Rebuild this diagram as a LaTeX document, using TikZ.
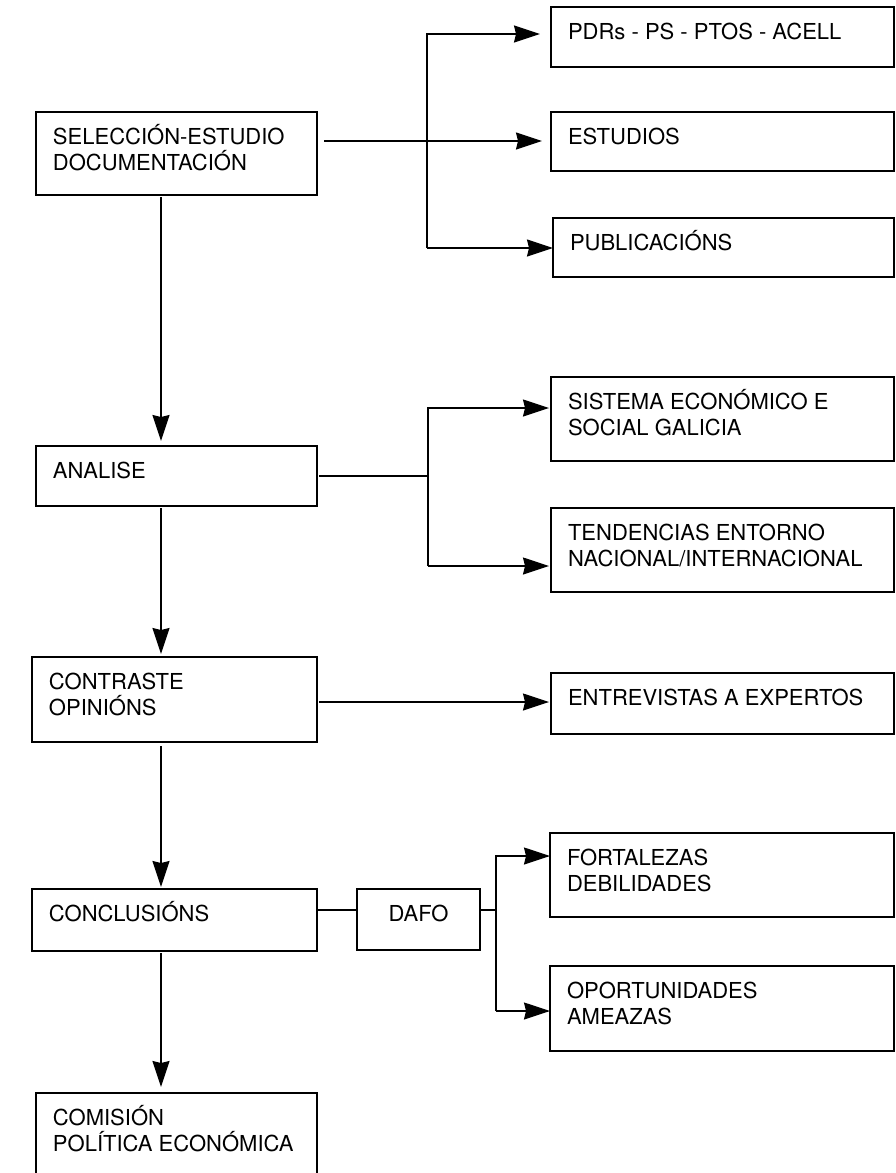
\documentclass[tikz,border=0pt]{standalone}
\usepackage{fontspec}
\setmainfont{TeX Gyre Heros}
\usetikzlibrary{arrows.meta,calc}
\newcommand{\btxtL}[3]{\begin{minipage}[c][#2][t]{#1}\leftskip=17pt\rule{0pt}{32.8pt}#3\end{minipage}}
\newcommand{\btxtC}[3]{\begin{minipage}[c][#2][t]{#1}\centering\rule{0pt}{32.8pt}#3\end{minipage}}
\begin{document}
\begin{tikzpicture}[x=1pt,y=-1pt,
  box/.style={draw, line width=1.4pt, inner sep=0pt, outer sep=0pt, anchor=north west,
    font=\fontsize{22}{26}\selectfont},
  conn/.style={line width=1.2pt},
  arr/.style={conn, -{Stealth[length=26pt,width=17pt,inset=2pt]}}]
\path[use as bounding box] (0,0) rectangle (895,1173);
\clip (0,0) rectangle (895,1173);
% left column
\node[box] (sel) at (36,112) {\btxtL{281pt}{83pt}{SELECCIÓN-ESTUDIO\\DOCUMENTACIÓN}};
\node[box] (ana) at (36,446) {\btxtL{281pt}{60pt}{ANALISE}};
\node[box] (con) at (32,657) {\btxtL{285pt}{85pt}{CONTRASTE\\OPINIÓNS}};
\node[box] (clu) at (32,889) {\btxtL{285pt}{62pt}{CONCLUSIÓNS}};
\node[box] (com) at (36,1093) {\btxtL{281pt}{100pt}{COMISIÓN\\POLÍTICA ECONÓMICA}};
\node[box] (dafo) at (357,889) {\btxtC{123pt}{61pt}{DAFO}};
% right column
\node[box] (pdr) at (551,7) {\btxtL{343pt}{60pt}{PDRs - PS - PTOS - ACELL}};
\node[box] (est) at (551,112) {\btxtL{343pt}{59pt}{ESTUDIOS}};
\node[box] (pub) at (553,218) {\btxtL{341pt}{59pt}{PUBLICACIÓNS}};
\node[box] (sis) at (551,377) {\btxtL{343pt}{84pt}{SISTEMA ECONÓMICO E\\SOCIAL GALICIA}};
\node[box] (ten) at (551,508) {\btxtL{343pt}{84pt}{TENDENCIAS ENTORNO\\NACIONAL/INTERNACIONAL}};
\node[box] (ent) at (551,673) {\btxtL{343pt}{61pt}{ENTREVISTAS A EXPERTOS}};
\node[box] (fort) at (550,833) {\btxtL{344pt}{84pt}{FORTALEZAS\\DEBILIDADES}};
\node[box] (opo) at (550,966) {\btxtL{344pt}{85pt}{OPORTUNIDADES\\AMEAZAS}};
% main spine
\coordinate (spine) at (161,0);
\draw[arr, shorten <=2pt, shorten >=5pt] (sel.south -| spine) -- (ana.north -| spine);
\draw[arr, shorten <=2pt, shorten >=3pt] (ana.south -| spine) -- (con.north -| spine);
\draw[arr, shorten <=4pt, shorten >=2pt] (con.south -| spine) -- (clu.north -| spine);
\draw[arr, shorten <=2pt, shorten >=6pt] (clu.south -| spine) -- (com.north -| spine);
% branch 1
\coordinate (b1) at (427,141);
\coordinate (b1t) at (427,34);
\coordinate (b1b) at (427,248);
\draw[arr, shorten <=7pt, shorten >=9pt] (sel.east |- b1) -- (est.west |- b1);
\draw[arr, shorten >=11pt] (b1b) -- (b1t) -- (pdr.west |- b1t);
\draw[arr] (b1b) -- (pub.west |- b1b);
% branch 2
\coordinate (b2) at (428,476);
\coordinate (s2t) at (428,408);
\coordinate (s2b) at (428,566);
\draw[conn, shorten <=2pt] (ana.east |- b2) -- (b2);
\draw[arr, shorten >=2pt] (s2b) -- (s2t) -- (sis.west |- s2t);
\draw[arr, shorten >=2pt] (s2b) -- (ten.west |- s2b);
% branch 3
\coordinate (e3) at (0,702);
\draw[arr, shorten <=2pt, shorten >=2pt] (con.east |- e3) -- (ent.west |- e3);
% branch 4
\coordinate (d4) at (0,910);
\coordinate (s4t) at (496,856);
\coordinate (s4b) at (496,1011);
\draw[conn, shorten <=1pt] (clu.east |- d4) -- (dafo.west |- d4);
\draw[conn] (dafo.east |- d4) -- (s4t |- d4);
\draw[arr] (s4b) -- (s4t) -- (fort.west |- s4t);
\draw[arr] (s4b) -- (opo.west |- s4b);
\end{tikzpicture}
\end{document}
